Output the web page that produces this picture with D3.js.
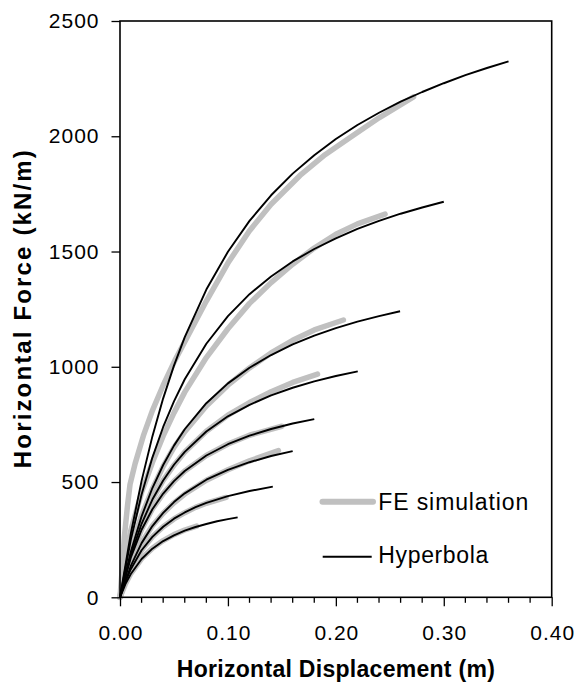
<!DOCTYPE html>
<html>
<head>
<meta charset="utf-8">
<script src="https://cdn.jsdelivr.net/npm/d3@7"></script>
<style>
  html, body { margin: 0; padding: 0; background: #fff; }
  svg { display: block; }
  text { font-family: Arial, "Liberation Sans", sans-serif; fill: #000; }
</style>
</head>
<body>
<svg id="chart" width="576" height="683"></svg>
<script>
// ---------- DATA ----------
const xTicks = [0, 0.1, 0.2, 0.3, 0.4];
const xTickLabels = ["0.00", "0.10", "0.20", "0.30", "0.40"];
const xMinorTicks = [0.02, 0.04, 0.06, 0.08, 0.12, 0.14, 0.16, 0.18, 0.22, 0.24, 0.26, 0.28, 0.32, 0.34, 0.36, 0.38];
const yTicks = [0, 500, 1000, 1500, 2000, 2500];
const yTickLabels = ["0", "500", "1000", "1500", "2000", "2500"];
const legendLabels = ["FE simulation", "Hyperbola"];
const xTitle = "Horizontal Displacement (m)";
const yTitle = "Horizontal Force (kN/m)";

// Hyperbola fits (black lines): [displacement m, force kN/m]
const hyp1 = [[0,0],[0.01,276],[0.02,505],[0.03,698],[0.04,863],[0.05,1005],[0.06,1129],[0.08,1335],[0.10,1499],[0.12,1633],[0.14,1744],[0.16,1838],[0.18,1918],[0.20,1988],[0.22,2049],[0.24,2102],[0.26,2150],[0.28,2192],[0.30,2230],[0.32,2265],[0.34,2296],[0.36,2325]];
const hyp2 = [[0,0],[0.01,249],[0.02,446],[0.03,606],[0.04,739],[0.05,850],[0.06,946],[0.08,1100],[0.10,1220],[0.12,1315],[0.14,1392],[0.16,1457],[0.18,1511],[0.20,1557],[0.22,1598],[0.24,1633],[0.26,1664],[0.28,1691],[0.30,1716]];
const hyp3 = [[0,0],[0.01,198],[0.02,351],[0.03,474],[0.04,574],[0.05,658],[0.06,729],[0.08,842],[0.10,928],[0.12,996],[0.14,1051],[0.16,1097],[0.18,1135],[0.20,1168],[0.22,1196],[0.24,1220],[0.2595,1241]];
const hyp4 = [[0,0],[0.01,183],[0.02,319],[0.03,424],[0.04,507],[0.05,575],[0.06,631],[0.08,719],[0.10,785],[0.12,835],[0.14,876],[0.16,909],[0.18,937],[0.20,960],[0.2203,980]];
const hyp5 = [[0,0],[0.01,172],[0.02,293],[0.03,382],[0.04,450],[0.05,504],[0.06,548],[0.08,615],[0.10,664],[0.12,701],[0.14,730],[0.16,754],[0.18,773]];
const hyp6 = [[0,0],[0.01,136],[0.02,235],[0.03,309],[0.04,366],[0.05,413],[0.06,451],[0.08,510],[0.10,553],[0.12,586],[0.14,613],[0.16,634]];
const hyp7 = [[0,0],[0.005,68],[0.01,122],[0.02,204],[0.03,262],[0.04,306],[0.05,341],[0.06,368],[0.07,391],[0.08,410],[0.10,439],[0.12,461],[0.1416,480]];
const hyp8 = [[0,0],[0.005,57],[0.01,101],[0.02,166],[0.03,211],[0.04,244],[0.05,269],[0.06,289],[0.07,305],[0.08,318],[0.09,330],[0.10,339],[0.109,347]];

// FE simulation results (grey thick lines)
const fe1 = [[0,0],[0.002,120],[0.004,260],[0.007,400],[0.0093,490],[0.014,580],[0.0216,700],[0.03,810],[0.04,920],[0.051,1029],[0.0664,1165],[0.08,1285],[0.10,1450],[0.12,1590],[0.14,1705],[0.1668,1830],[0.19,1920],[0.2132,1995],[0.24,2080],[0.272,2171]];
const fe2 = [[0,0],[0.005,170],[0.01,290],[0.02,455],[0.03,585],[0.04,700],[0.05,800],[0.06,890],[0.08,1040],[0.10,1165],[0.12,1275],[0.14,1365],[0.16,1445],[0.18,1515],[0.20,1575],[0.22,1620],[0.2456,1662]];
const fe3 = [[0,0],[0.005,120],[0.01,210],[0.02,355],[0.03,470],[0.04,568],[0.05,650],[0.06,718],[0.08,830],[0.10,920],[0.12,995],[0.14,1060],[0.16,1115],[0.18,1160],[0.207,1203]];
const fe4 = [[0,0],[0.005,105],[0.01,190],[0.02,322],[0.03,425],[0.04,507],[0.05,573],[0.06,630],[0.08,720],[0.10,790],[0.12,845],[0.14,892],[0.16,932],[0.183,968]];
const fe5 = [[0,0],[0.005,98],[0.01,175],[0.02,295],[0.03,383],[0.04,450],[0.05,503],[0.06,548],[0.08,615],[0.10,665],[0.12,703],[0.1499,742]];
const fe6 = [[0,0],[0.005,80],[0.01,140],[0.02,238],[0.03,310],[0.04,365],[0.05,410],[0.06,448],[0.08,508],[0.10,553],[0.12,592],[0.1468,636]];
const fe7 = [[0,0],[0.005,70],[0.01,125],[0.02,205],[0.03,263],[0.04,306],[0.05,340],[0.06,367],[0.07,390],[0.08,408],[0.0983,433]];
const fe8 = [[0,0],[0.005,58],[0.01,103],[0.02,168],[0.03,213],[0.04,246],[0.05,272],[0.06,292],[0.071,309]];

const feSeries = [fe1, fe2, fe3, fe4, fe5, fe6, fe7, fe8];
const hypSeries = [hyp1, hyp2, hyp3, hyp4, hyp5, hyp6, hyp7, hyp8];

// ---------- LAYOUT ----------
const plot = { left: 120, right: 551.7, top: 21, bottom: 597.3 };
const feColor = "#c0c0c0";
const hypColor = "#000000";

const svg = d3.select("#chart");

const x = d3.scaleLinear().domain([0, 0.4]).range([plot.left, plot.right]);
const y = d3.scaleLinear().domain([0, 2500]).range([plot.bottom, plot.top]);

const line = d3.line().x(d => x(d[0])).y(d => y(d[1])).curve(d3.curveLinear);

// FE lines (drawn first, underneath)
svg.append("g").selectAll("path").data(feSeries).join("path")
  .attr("d", line)
  .attr("fill", "none")
  .attr("stroke", feColor)
  .attr("stroke-width", 5.5)
  .attr("stroke-linecap", "round")
  .attr("stroke-linejoin", "round");

// Hyperbola lines
svg.append("g").selectAll("path").data(hypSeries).join("path")
  .attr("d", line)
  .attr("fill", "none")
  .attr("stroke", hypColor)
  .attr("stroke-width", 1.9)
  .attr("stroke-linejoin", "round");

// Plot frame
svg.append("rect")
  .attr("x", plot.left).attr("y", plot.top)
  .attr("width", plot.right - plot.left).attr("height", plot.bottom - plot.top)
  .attr("fill", "none").attr("stroke", "#000").attr("stroke-width", 1.6);

// X axis
const xAxis = d3.axisBottom(x)
  .tickValues(xTicks)
  .tickFormat((d, i) => xTickLabels[i])
  .tickSize(9)
  .tickPadding(19);
const gx = svg.append("g").attr("transform", `translate(0,${plot.bottom})`).call(xAxis);
gx.select(".domain").remove();
gx.selectAll(".tick line").attr("stroke", "#000").attr("stroke-width", 1.3);
gx.selectAll(".tick text")
  .style("font-size", "21px")
  .style("letter-spacing", "1px")
  .attr("dx", "0.5px")
  .attr("fill", "#000");

// minor x ticks
svg.append("g").selectAll("line").data(xMinorTicks).join("line")
  .attr("x1", d => x(d)).attr("x2", d => x(d))
  .attr("y1", plot.bottom).attr("y2", plot.bottom + 5.5)
  .attr("stroke", "#000").attr("stroke-width", 1.3);

// Y axis
const yAxis = d3.axisLeft(y)
  .tickValues(yTicks)
  .tickFormat((d, i) => yTickLabels[i])
  .tickSize(8.5)
  .tickPadding(12);
const gy = svg.append("g").attr("transform", `translate(${plot.left},0)`).call(yAxis);
gy.select(".domain").remove();
gy.selectAll(".tick line").attr("stroke", "#000").attr("stroke-width", 1.3);
gy.selectAll(".tick text")
  .style("font-size", "21px")
  .style("letter-spacing", "1px")
  .attr("fill", "#000");

// Axis titles
svg.append("text")
  .attr("x", (plot.left + plot.right) / 2)
  .attr("y", 676.5)
  .attr("text-anchor", "middle")
  .style("font-size", "23px")
  .style("font-weight", "bold")
  .attr("textLength", 318)
  .attr("lengthAdjust", "spacing")
  .text(xTitle);

svg.append("text")
  .attr("transform", `translate(31,${(plot.top + plot.bottom) / 2}) rotate(-90)`)
  .attr("text-anchor", "middle")
  .style("font-size", "24px")
  .style("font-weight", "bold")
  .attr("textLength", 318)
  .attr("lengthAdjust", "spacing")
  .text(yTitle);

// Legend
const legend = svg.append("g");
const legendItems = [
  { label: legendLabels[0], color: feColor, width: 6, cap: "round", x1: 322.5, x2: 373, y: 501.7, ty: 509.5, tl: 150 },
  { label: legendLabels[1], color: hypColor, width: 1.9, cap: "butt", x1: 322.7, x2: 371.7, y: 556.7, ty: 562.5, tl: 110 }
];
legendItems.forEach(it => {
  legend.append("line")
    .attr("x1", it.x1).attr("x2", it.x2)
    .attr("y1", it.y).attr("y2", it.y)
    .attr("stroke", it.color).attr("stroke-width", it.width)
    .attr("stroke-linecap", it.cap);
  legend.append("text")
    .attr("x", 378.3).attr("y", it.ty)
    .style("font-size", "23px")
    .attr("textLength", it.tl)
    .attr("lengthAdjust", "spacing")
    .text(it.label);
});
</script>
</body>
</html>
